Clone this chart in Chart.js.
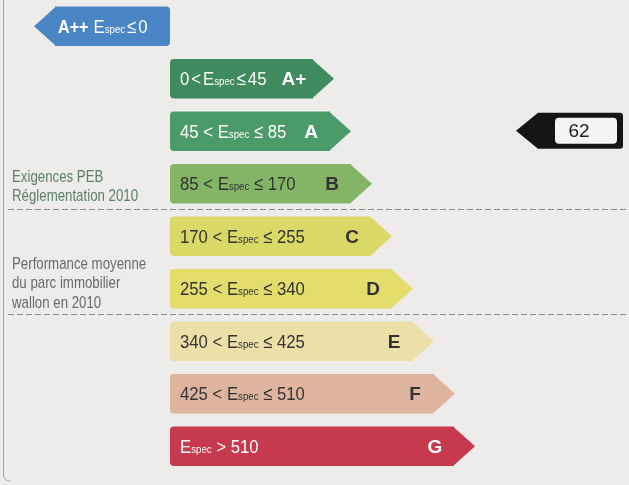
<!DOCTYPE html>
<html>
<head>
<meta charset="utf-8">
<script src="https://cdn.jsdelivr.net/npm/chart.js@4.4.1/dist/chart.umd.min.js"></script>
<style>
  html, body { margin: 0; padding: 0; background: #edecea; overflow: hidden; }
  #wrap { width: 629px; height: 485px; position: relative; }
</style>
</head>
<body>
<div id="wrap"><canvas id="chart"></canvas></div>
<script>
// PEB energy classes, top to bottom
const classes = ['A++', 'A+', 'A', 'B', 'C', 'D', 'E', 'F', 'G'];
const lowerBounds = [null, 0, 45, 85, 170, 255, 340, 425, 510];
const upperBounds = [0, 45, 85, 170, 255, 340, 425, 510, null];
// arrow body lengths (A++ points the other way)
const arrowLengths = [-115, 143, 160, 181, 201, 222, 243, 264, 284];
const buildingValue = 62;

const classColors = ['#4a86c6', '#3f8a5e', '#4b9a69', '#84b567', '#dad866', '#e3dd6c', '#ecdfa8', '#dfb49e', '#c7394d'];
const textColors = ['#ffffff', '#ffffff', '#ffffff', '#333333', '#333333', '#333333', '#333333', '#333333', '#ffffff'];
const tightRows = [0, 1];

const notes = [
  { lines: ['Exigences PEB', 'Réglementation 2010'], row: 3, color: '#5c7f6d', dy: 3 },
  { lines: ['Performance moyenne', 'du parc immobilier', 'wallon en 2010'], row: 5, color: '#6a6a68', dy: -5 }
];
const separatorsAfter = [3, 5];

const FAMILY = '"Liberation Sans", Arial, sans-serif';
const BOLD = 'bold 19px ' + FAMILY;

// draws text squeezed horizontally, returns the drawn width
function fillNarrow(ctx, text, x, y, sx) {
  ctx.save();
  ctx.translate(x, y);
  ctx.scale(sx, 1);
  ctx.fillText(text, 0, 0);
  ctx.restore();
  return ctx.measureText(text).width * sx;
}

function drawRange(ctx, x, y, i, color) {
  const big = '19px ' + FAMILY;
  const small = '11px ' + FAMILY;
  const tight = tightRows.includes(i);
  const sp = tight ? '' : ' ';
  const pad = tight ? 2 : 0;
  const lo = lowerBounds[i], hi = upperBounds[i];
  const parts = [];
  if (lo !== null && hi !== null) parts.push([String(lo), big], [sp + '<' + sp, big, pad]);
  parts.push(['E', big], ['spec', small]);
  if (hi !== null) parts.push([sp + '≤' + sp, big, pad], [String(hi), big]);
  else parts.push([' > ', big], [String(lo), big]);
  ctx.fillStyle = color;
  ctx.textAlign = 'left';
  ctx.textBaseline = 'alphabetic';
  parts.forEach(p => {
    ctx.font = p[1];
    const pad = p[2] || 0;
    x += pad;
    x += fillNarrow(ctx, p[0], x, y, 0.88) + pad;
  });
  return x;
}

const arrowPlugin = {
  id: 'arrows',
  beforeDraw(chart) {
    const ctx = chart.ctx;
    const yScale = chart.scales.y;
    ctx.save();
    // frame line on the left
    ctx.strokeStyle = '#a3a3a0';
    ctx.lineWidth = 1;
    ctx.beginPath();
    ctx.moveTo(3.5, 0);
    ctx.lineTo(3.5, 474);
    ctx.quadraticCurveTo(3.5, 481, 10, 481);
    ctx.stroke();
    // dashed separators
    ctx.strokeStyle = '#8c8c8a';
    ctx.setLineDash([6, 3]);
    separatorsAfter.forEach(r => {
      const y = Math.round((yScale.getPixelForValue(r) + yScale.getPixelForValue(r + 1)) / 2) - 0.5;
      ctx.beginPath();
      ctx.moveTo(8, y);
      ctx.lineTo(chart.width, y);
      ctx.stroke();
    });
    ctx.setLineDash([]);
    // side notes
    ctx.font = '17px ' + FAMILY;
    ctx.textAlign = 'left';
    ctx.textBaseline = 'middle';
    notes.forEach(n => {
      const yc = yScale.getPixelForValue(n.row) + n.dy;
      n.lines.forEach((line, k) => {
        ctx.fillStyle = n.color;
        fillNarrow(ctx, line, 12, yc + (k - (n.lines.length - 1) / 2) * 19.5, 0.78);
      });
    });
    ctx.restore();
  },
  afterDatasetsDraw(chart) {
    const ctx = chart.ctx;
    const meta = chart.getDatasetMeta(0);
    ctx.save();
    meta.data.forEach((bar, i) => {
      const dir = arrowLengths[i] < 0 ? -1 : 1;
      const tip = 21;
      const top = bar.y - bar.height / 2, bottom = bar.y + bar.height / 2;
      ctx.fillStyle = classColors[i];
      ctx.beginPath();
      ctx.moveTo(bar.x - dir, top);
      ctx.lineTo(bar.x + dir * tip, bar.y);
      ctx.lineTo(bar.x - dir, bottom);
      ctx.closePath();
      ctx.fill();

      const baseY = bar.y + 6.5;
      if (dir < 0) {
        ctx.fillStyle = textColors[i];
        ctx.font = BOLD;
        ctx.textAlign = 'left';
        ctx.textBaseline = 'alphabetic';
        const w = fillNarrow(ctx, classes[i], bar.x + 3, baseY, 0.85);
        drawRange(ctx, bar.x + 3 + w + 5, baseY, i, textColors[i]);
      } else {
        drawRange(ctx, bar.base + 10, baseY, i, textColors[i]);
        ctx.fillStyle = textColors[i];
        ctx.font = BOLD;
        ctx.textAlign = 'center';
        ctx.textBaseline = 'alphabetic';
        ctx.fillText(classes[i], bar.x - 19, baseY);
      }
    });

    // building indicator, on the row of its class
    const idx = classes.findIndex((c, i) =>
      (lowerBounds[i] === null || buildingValue > lowerBounds[i]) &&
      (upperBounds[i] === null || buildingValue <= upperBounds[i]));
    const yc = chart.scales.y.getPixelForValue(idx) - 0.5;
    const h = 36, left = 538, right = 623, tipX = 516;
    ctx.fillStyle = '#151515';
    ctx.beginPath();
    ctx.moveTo(tipX, yc);
    ctx.lineTo(left, yc - h / 2);
    ctx.lineTo(right - 3, yc - h / 2);
    ctx.quadraticCurveTo(right, yc - h / 2, right, yc - h / 2 + 3);
    ctx.lineTo(right, yc + h / 2 - 3);
    ctx.quadraticCurveTo(right, yc + h / 2, right - 3, yc + h / 2);
    ctx.lineTo(left, yc + h / 2);
    ctx.closePath();
    ctx.fill();
    ctx.fillStyle = '#f4f4f2';
    ctx.beginPath();
    ctx.roundRect(555, yc - 13, 62, 26, 4);
    ctx.fill();
    ctx.fillStyle = '#222222';
    ctx.font = '19px ' + FAMILY;
    ctx.textAlign = 'center';
    ctx.textBaseline = 'middle';
    ctx.fillText(String(buildingValue), 579, yc + 1);
    ctx.restore();
  }
};

new Chart(document.getElementById('chart'), {
  type: 'bar',
  data: {
    labels: classes,
    datasets: [{
      data: arrowLengths,
      backgroundColor: classColors,
      borderWidth: 0,
      borderSkipped: false,
      borderRadius: c => c.raw < 0
        ? { topLeft: 0, bottomLeft: 0, topRight: 4, bottomRight: 4 }
        : { topLeft: 4, bottomLeft: 4, topRight: 0, bottomRight: 0 },
      barPercentage: 0.75,
      categoryPercentage: 1
    }]
  },
  options: {
    indexAxis: 'y',
    responsive: true,
    maintainAspectRatio: false,
    animation: false,
    layout: { padding: { top: 0, bottom: 12.5, left: 0, right: 0 } },
    plugins: { legend: { display: false }, tooltip: { enabled: false } },
    scales: {
      x: { display: false, min: -170, max: 459 },
      y: { display: false }
    }
  },
  plugins: [arrowPlugin]
});
</script>
</body>
</html>
